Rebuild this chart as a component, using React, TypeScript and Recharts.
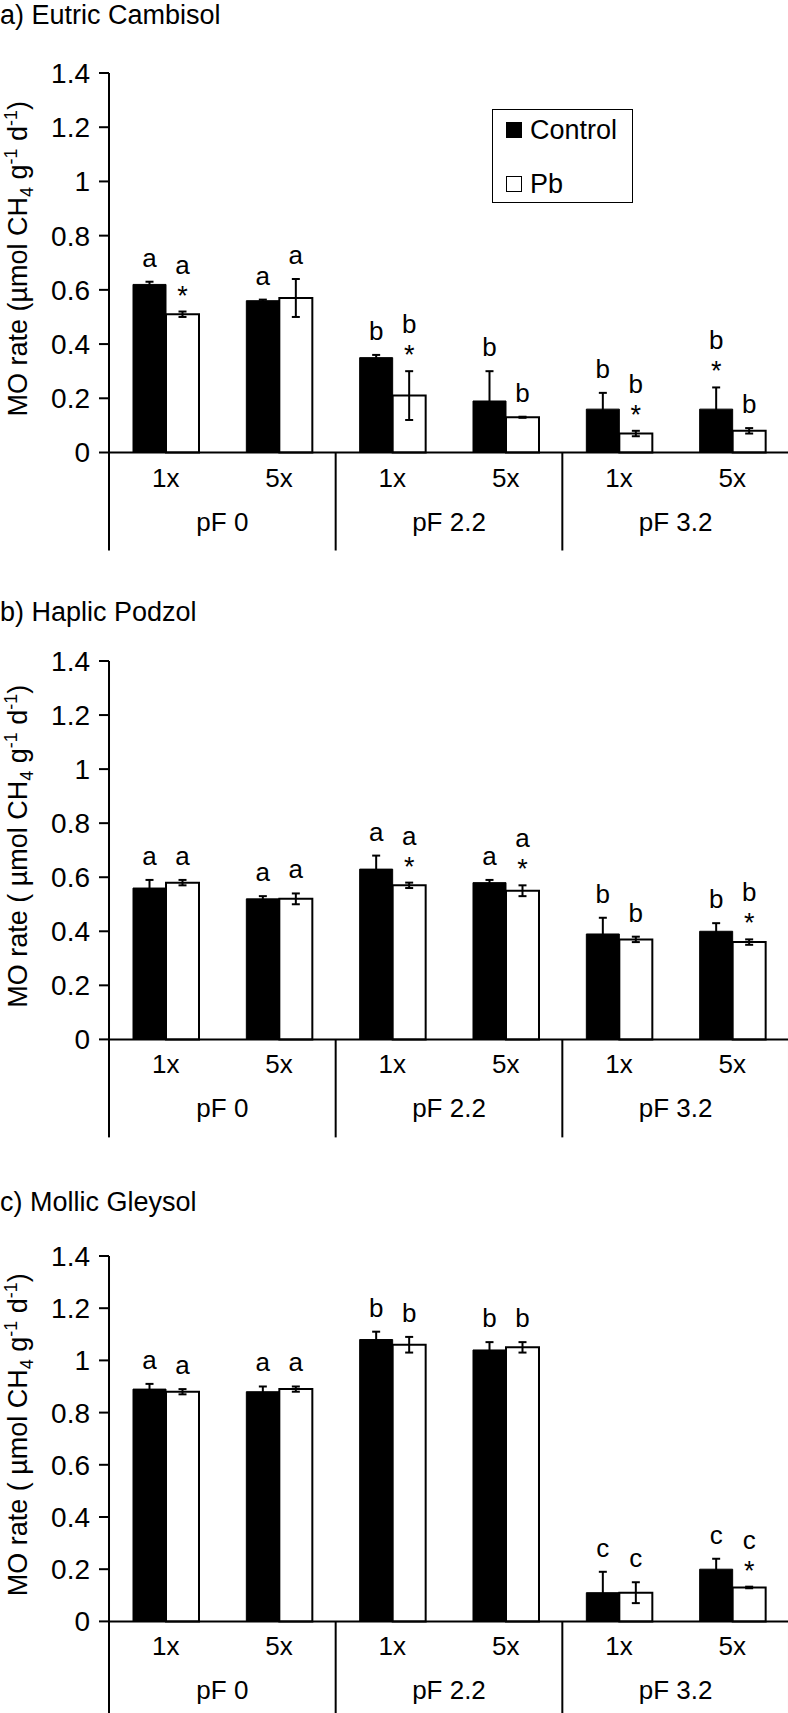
import React from 'react'
import { BarChart, Bar, XAxis, YAxis, ErrorBar, LabelList, Legend } from 'recharts'

const doses = ['1x', '5x', '1x', '5x', '1x', '5x']
const groups = ['pF 0', 'pF 2.2', 'pF 3.2']
const yTicks = [0, 0.2, 0.4, 0.6, 0.8, 1, 1.2, 1.4]

// a) Eutric Cambisol
const cambisolControl = [0.62, 0.56, 0.35, 0.19, 0.16, 0.16]
const cambisolControlErr = [0.01, 0.004, 0.01, 0.11, 0.06, 0.08]
const cambisolPb = [0.51, 0.57, 0.21, 0.13, 0.07, 0.08]
const cambisolPbErr = [0.01, 0.07, 0.09, 0.002, 0.01, 0.01]
const cambisolControlLetters = ['a', 'a', 'b', 'b', 'b', 'b']
const cambisolPbLetters = ['a', 'a', 'b', 'b', 'b', 'b']
const cambisolControlStars = [false, false, false, false, false, true]
const cambisolPbStars = [true, false, true, false, true, false]

// b) Haplic Podzol
const podzolControl = [0.56, 0.52, 0.63, 0.58, 0.39, 0.4]
const podzolControlErr = [0.03, 0.01, 0.05, 0.01, 0.06, 0.03]
const podzolPb = [0.58, 0.52, 0.57, 0.55, 0.37, 0.36]
const podzolPbErr = [0.01, 0.02, 0.01, 0.02, 0.01, 0.01]
const podzolControlLetters = ['a', 'a', 'a', 'a', 'b', 'b']
const podzolPbLetters = ['a', 'a', 'a', 'a', 'b', 'b']
const podzolControlStars = [false, false, false, false, false, false]
const podzolPbStars = [false, false, true, true, false, true]

// c) Mollic Gleysol
const gleysolControl = [0.89, 0.88, 1.08, 1.04, 0.11, 0.2]
const gleysolControlErr = [0.02, 0.02, 0.03, 0.03, 0.08, 0.04]
const gleysolPb = [0.88, 0.89, 1.06, 1.05, 0.11, 0.13]
const gleysolPbErr = [0.01, 0.01, 0.03, 0.02, 0.04, 0.003]
const gleysolControlLetters = ['a', 'a', 'b', 'b', 'c', 'c']
const gleysolPbLetters = ['a', 'a', 'b', 'b', 'c', 'c']
const gleysolControlStars = [false, false, false, false, false, false]
const gleysolPbStars = [false, false, false, false, false, true]

const FONT = '"Liberation Sans", Arial, Helvetica, sans-serif'
const FS = 26
const CHART_W = 790
const AXIS_W = 109
const PLOT_W = CHART_W - AXIS_W - 1
const TOP = 73
const XAXIS_H = 100

interface Series {
  values: number[]
  errs: number[]
  letters: string[]
  stars: boolean[]
}

const buildRows = (control: Series, pb: Series) =>
  doses.map((dose, i) => ({
    key: i,
    dose,
    control: control.values[i],
    controlErr: control.errs[i],
    pb: pb.values[i],
    pbErr: pb.errs[i],
  }))

// two-level category axis: dose under each pair, pF group below, with separators
const DoseTick = (props: any) => {
  const { x, y, payload, index } = props
  const band = PLOT_W / doses.length
  const i = index ?? payload.index
  return (
    <g>
      <text x={x} y={y + 34} textAnchor="middle" fontSize={FS} fontFamily={FONT} fill="#000">
        {doses[i]}
      </text>
      {i % 2 === 0 && (
        <>
          <line x1={x - band / 2} x2={x - band / 2} y1={y} y2={y + 98} stroke="#000" strokeWidth={2} />
          <text x={x + band / 2} y={y + 78} textAnchor="middle" fontSize={FS} fontFamily={FONT} fill="#000">
            {groups[i / 2]}
          </text>
        </>
      )}
      {i === doses.length - 1 && (
        <line x1={x + band / 2} x2={x + band / 2} y1={y} y2={y + 98} stroke="#000" strokeWidth={2} />
      )}
    </g>
  )
}

const makeSigLabel = (s: Series) => (props: any) => {
  const { x, y, width, height, index } = props
  const v = s.values[index]
  const perUnit = height / v
  const errTop = y - s.errs[index] * perUnit
  const cx = x + width / 2
  if (s.stars[index]) {
    return (
      <g>
        <text x={cx} y={errTop - 7} textAnchor="middle" fontSize={27} fontFamily={FONT} fill="#000">*</text>
        <text x={cx} y={errTop - 38} textAnchor="middle" fontSize={FS} fontFamily={FONT} fill="#000">
          {s.letters[index]}
        </text>
      </g>
    )
  }
  return (
    <text x={cx} y={errTop - 15} textAnchor="middle" fontSize={FS} fontFamily={FONT} fill="#000">
      {s.letters[index]}
    </text>
  )
}

const YLabel = ({ plotH, spaced }: { plotH: number; spaced: boolean }) => (props: any) => {
  const cy = TOP + plotH / 2 - 4
  return (
    <text
      transform={`translate(27, ${cy}) rotate(-90)`}
      textAnchor="middle"
      fontSize={27}
      fontFamily={FONT}
      fill="#000"
    >
      {spaced ? 'MO rate ( \u00b5mol CH' : 'MO rate (\u00b5mol CH'}
      <tspan fontSize={18} dy={6}>4</tspan>
      <tspan dy={-6}> g</tspan>
      <tspan fontSize={18} dy={-10}>-1</tspan>
      <tspan dy={10}> d</tspan>
      <tspan fontSize={18} dy={-10}>-1</tspan>
      <tspan dy={10}>)</tspan>
    </text>
  )
}

const LegendBox = (props: any) => {
  const { payload } = props
  return (
    <div
      style={{
        width: 141,
        height: 94,
        boxSizing: 'border-box',
        border: '1.5px solid #000',
        background: '#fff',
        position: 'relative',
        fontFamily: FONT,
        fontSize: 27,
      }}
    >
      {(payload || []).map((entry: any, i: number) => (
        <div
          key={entry.value}
          style={{
            position: 'absolute',
            left: 13,
            top: i === 0 ? 5 : 59,
            display: 'flex',
            alignItems: 'center',
            lineHeight: '30px',
          }}
        >
          <span
            style={{
              display: 'inline-block',
              width: 16,
              height: 16,
              boxSizing: 'border-box',
              background: entry.payload?.fill ?? entry.color,
              border: '1.5px solid #000',
              marginRight: 8,
            }}
          />
          <span>{entry.value}</span>
        </div>
      ))}
    </div>
  )
}

interface PanelProps {
  title: string
  titleY: number
  top: number
  plotH: number
  control: Series
  pb: Series
  spacedLabel: boolean
  showLegend: boolean
}

const Panel = ({ title, titleY, top, plotH, control, pb, spacedLabel, showLegend }: PanelProps) => {
  const rows = buildRows(control, pb)
  return (
    <>
      <div
        style={{
          position: 'absolute',
          left: 0,
          top: Math.max(0, titleY - 25),
          fontFamily: FONT,
          fontSize: 27,
          whiteSpace: 'nowrap',
          color: '#000',
        }}
      >
        {title}
      </div>
      <div style={{ position: 'absolute', left: 0, top }}>
        <BarChart
          width={CHART_W}
          height={TOP + plotH + XAXIS_H}
          data={rows}
          margin={{ top: TOP, right: 1, left: 0, bottom: 0 }}
          barGap={0}
          barSize={33}
        >
          <XAxis
            dataKey="key"
            height={XAXIS_H}
            interval={0}
            tickLine={false}
            tickSize={0}
            tickMargin={0}
            axisLine={{ stroke: '#000', strokeWidth: 2 }}
            tick={<DoseTick />}
          />
          <YAxis
            width={AXIS_W}
            domain={[0, 1.4]}
            ticks={yTicks}
            interval={0}
            tickSize={10}
            tickMargin={9}
            axisLine={{ stroke: '#000', strokeWidth: 2 }}
            tickLine={{ stroke: '#000', strokeWidth: 2 }}
            tick={{ fontSize: 28, fontFamily: FONT, fill: '#000' }}
            tickFormatter={(v: number) => (v === 0 || v === 1 ? String(v) : v.toFixed(1))}
            label={{ content: YLabel({ plotH, spaced: spacedLabel }) }}
          />
          {showLegend && (
            <Legend
              layout="horizontal"
              verticalAlign="middle"
              align="center"
              content={<LegendBox />}
              wrapperStyle={{ top: 109, left: 492, width: 141, height: 94 }}
            />
          )}
          <Bar dataKey="control" name="Control" fill="#000" stroke="#000" strokeWidth={1} isAnimationActive={false}>
            <ErrorBar dataKey="controlErr" width={4} stroke="#000" strokeWidth={2} direction="y" />
            <LabelList dataKey="control" content={makeSigLabel(control)} />
          </Bar>
          <Bar dataKey="pb" name="Pb" fill="#fff" stroke="#000" strokeWidth={2} isAnimationActive={false}>
            <ErrorBar dataKey="pbErr" width={4} stroke="#000" strokeWidth={2} direction="y" />
            <LabelList dataKey="pb" content={makeSigLabel(pb)} />
          </Bar>
        </BarChart>
      </div>
    </>
  )
}

export default function App() {
  return (
    <div
      style={{
        position: 'absolute',
        left: 0,
        top: 0,
        width: 788,
        height: 1713,
        overflow: 'hidden',
        background: '#fff',
      }}
    >
      <Panel
        title="a) Eutric Cambisol"
        titleY={22}
        top={0}
        plotH={379.5}
        control={{ values: cambisolControl, errs: cambisolControlErr, letters: cambisolControlLetters, stars: cambisolControlStars }}
        pb={{ values: cambisolPb, errs: cambisolPbErr, letters: cambisolPbLetters, stars: cambisolPbStars }}
        spacedLabel={false}
        showLegend
      />
      <Panel
        title="b) Haplic Podzol"
        titleY={622}
        top={588}
        plotH={378.4}
        control={{ values: podzolControl, errs: podzolControlErr, letters: podzolControlLetters, stars: podzolControlStars }}
        pb={{ values: podzolPb, errs: podzolPbErr, letters: podzolPbLetters, stars: podzolPbStars }}
        spacedLabel
        showLegend={false}
      />
      <Panel
        title="c) Mollic Gleysol"
        titleY={1212}
        top={1182.6}
        plotH={365.4}
        control={{ values: gleysolControl, errs: gleysolControlErr, letters: gleysolControlLetters, stars: gleysolControlStars }}
        pb={{ values: gleysolPb, errs: gleysolPbErr, letters: gleysolPbLetters, stars: gleysolPbStars }}
        spacedLabel
        showLegend={false}
      />
    </div>
  )
}
